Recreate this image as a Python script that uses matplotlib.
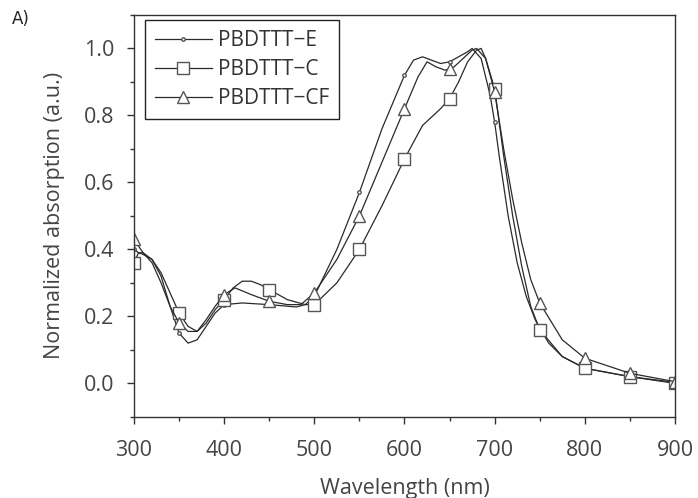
import numpy as np
import matplotlib
matplotlib.use("Agg")
import matplotlib.pyplot as plt
from matplotlib.ticker import MultipleLocator

plt.rcParams['font.family'] = ['Open Sans', 'DejaVu Sans']

# PBDTTT-E (small dot markers)
wl_e = [300, 305, 310, 320, 330, 340, 350, 360, 370, 380, 390, 400, 420, 450, 480, 490,
        500, 525, 550, 575, 600, 610, 620, 630, 640, 650, 660, 670, 675, 685, 695,
        700, 705, 715, 725, 735, 745, 750, 760, 775, 800, 850, 900]
abs_e = [0.40, 0.39, 0.385, 0.37, 0.32, 0.23, 0.15, 0.12, 0.13, 0.17, 0.21, 0.235, 0.24, 0.235, 0.228, 0.235,
         0.26, 0.40, 0.57, 0.76, 0.92, 0.965, 0.975, 0.965, 0.955, 0.96, 0.975, 0.99, 1.0, 0.97, 0.86,
         0.78, 0.68, 0.50, 0.36, 0.26, 0.19, 0.165, 0.12, 0.08, 0.045, 0.02, 0.003]

# PBDTTT-C (squares)
wl_c = [300, 305, 310, 320, 330, 340, 350, 360, 370, 380, 390, 400, 410, 420, 430, 440, 450,
        470, 490, 500, 525, 550, 575, 600, 620, 640, 650, 660, 670, 680, 685, 690,
        700, 710, 720, 730, 740, 750, 775, 800, 850, 900]
abs_c = [0.36, 0.39, 0.39, 0.37, 0.33, 0.27, 0.21, 0.17, 0.155, 0.18, 0.22, 0.25, 0.285, 0.305, 0.305, 0.295, 0.28,
         0.25, 0.235, 0.235, 0.30, 0.40, 0.53, 0.67, 0.77, 0.82, 0.85, 0.90, 0.96, 0.995, 1.0, 0.97,
         0.88, 0.68, 0.50, 0.35, 0.23, 0.16, 0.08, 0.045, 0.02, 0.0]

# PBDTTT-CF (triangles)
wl_cf = [300, 305, 310, 320, 330, 340, 350, 360, 370, 380, 390, 400, 412, 430, 450, 470, 485,
         500, 525, 550, 575, 600, 615, 625, 635, 645, 650, 655, 665, 675, 680, 690,
         700, 710, 720, 730, 740, 750, 775, 800, 850, 900]
abs_cf = [0.43, 0.41, 0.39, 0.36, 0.30, 0.23, 0.18, 0.155, 0.155, 0.19, 0.23, 0.265, 0.285, 0.265, 0.245, 0.235, 0.235,
          0.27, 0.37, 0.50, 0.66, 0.82, 0.915, 0.96, 0.945, 0.935, 0.94, 0.945, 0.97, 0.995, 1.0, 0.97,
          0.87, 0.70, 0.55, 0.42, 0.31, 0.24, 0.13, 0.075, 0.03, 0.005]

labels = ['PBDTTT\u2212E', 'PBDTTT\u2212C', 'PBDTTT\u2212CF']

fig = plt.figure(figsize=(6.98, 4.98), dpi=100)
ax = fig.add_axes([0.192, 0.163, 0.775, 0.807])

line_col = '#2a2a2a'
mk_col = '#555555'

def marks(wl):
    return [i for i, w in enumerate(wl) if w % 50 == 0]

ax.plot(wl_e, abs_e, color=line_col, lw=0.9, marker='o', markersize=2.5,
        markerfacecolor='white', markeredgecolor=mk_col, markevery=marks(wl_e), label=labels[0])
ax.plot(wl_c, abs_c, color=line_col, lw=0.9, marker='s', markersize=8,
        markerfacecolor='white', markeredgecolor=mk_col, markeredgewidth=1.0,
        markevery=marks(wl_c), label=labels[1])
ax.plot(wl_cf, abs_cf, color=line_col, lw=0.9, marker='^', markersize=9,
        markerfacecolor='white', markeredgecolor=mk_col, markeredgewidth=1.0,
        markevery=marks(wl_cf), label=labels[2])

ax.set_xlim(300, 900)
ax.set_ylim(-0.1, 1.1)
ax.xaxis.set_major_locator(MultipleLocator(100))
ax.xaxis.set_minor_locator(MultipleLocator(50))
ax.yaxis.set_major_locator(MultipleLocator(0.2))
ax.yaxis.set_minor_locator(MultipleLocator(0.1))
ax.yaxis.set_major_formatter(plt.FuncFormatter(lambda v, p: f'{v:.1f}'))

ax.tick_params(which='major', direction='out', length=5, width=1, colors='#333333',
               labelsize=15.5, labelcolor='#444444')
ax.tick_params(which='minor', direction='out', length=3, width=1, colors='#333333')
ax.tick_params(axis='x', pad=12)
ax.tick_params(axis='y', pad=9)
for s in ax.spines.values():
    s.set_color('#333333')
    s.set_linewidth(1.0)

ax.set_xlabel('Wavelength (nm)', fontsize=15.5, color='#444444', labelpad=12)
ax.set_ylabel('Normalized absorption (a.u.)', fontsize=15.5, color='#444444', labelpad=14)

leg = ax.legend(loc='upper left', bbox_to_anchor=(0.02, 0.988), borderaxespad=0, fontsize=15,
                handlelength=2.7, handletextpad=0.3, borderpad=0.5, labelspacing=0.38,
                fancybox=False, framealpha=1)
leg.get_frame().set_edgecolor('#222222')
leg.get_frame().set_linewidth(1.0)
for t in leg.get_texts():
    t.set_color('#333333')

fig.text(0.017, 0.952, 'A)', fontsize=12, color='#222222', family='Liberation Sans Narrow')

fig.savefig('out.png', dpi=100)
